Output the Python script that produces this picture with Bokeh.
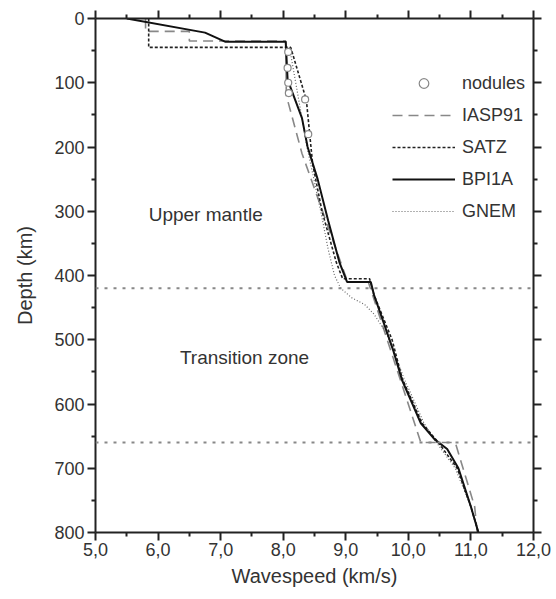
from bokeh.plotting import figure
from bokeh.models import (Range1d, FixedTicker, LinearAxis, Legend, LegendItem,
                          Label, Span)
from bokeh.embed import file_html
from bokeh.resources import INLINE

# ---------------- data ----------------
x_ticks = [5, 6, 7, 8, 9, 10, 11, 12]
x_tick_labels = ["5,0", "6,0", "7,0", "8,0", "9,0", "10,0", "11,0", "12,0"]
y_ticks = [0, 100, 200, 300, 400, 500, 600, 700, 800]

nodules_v = [8.08, 8.07, 8.08, 8.09, 8.35, 8.40]
nodules_d = [52, 77, 100, 116, 126, 180]

iasp91_v = [5.80, 5.80, 6.50, 6.50, 8.04, 8.05, 8.30, 9.03, 9.36, 10.20, 10.75, 11.06, 11.10]
iasp91_d = [0, 20, 20, 35, 35, 120, 210, 410, 410, 660, 660, 760, 800]

satz_v = [5.85, 5.85, 8.12, 8.37, 8.47, 8.62, 8.85, 8.95, 9.38, 9.45, 9.74, 9.90, 10.22, 10.48, 10.78, 11.00, 11.12]
satz_d = [0, 45, 45, 127, 226, 300, 380, 405, 405, 430, 500, 560, 630, 660, 700, 760, 800]

bpi1a_v = [5.50, 6.75, 7.07, 8.04, 8.07, 8.30, 8.39, 8.55, 8.72, 8.90, 9.02, 9.40, 9.45, 9.76, 9.90, 10.20, 10.42, 10.62, 10.80, 11.00, 11.12]
bpi1a_d = [0, 22, 36, 36, 95, 155, 200, 250, 315, 380, 410, 410, 430, 517, 563, 630, 655, 670, 700, 760, 800]

gnem_v = [8.10, 8.20, 8.38, 8.60, 8.72, 8.82, 8.92, 9.10, 9.30, 9.45, 9.65, 9.93, 10.25, 10.45, 10.75, 11.00, 11.12]
gnem_d = [45, 100, 200, 300, 360, 400, 420, 435, 445, 460, 490, 560, 630, 660, 700, 760, 800]

boundaries = [420, 660]

FONT = "Liberation Sans"
TXT = "#333333"

p = figure(frame_width=438, frame_height=514,
           x_range=Range1d(5, 12), y_range=Range1d(800, 0),
           output_backend="svg", toolbar_location=None,
           min_border_left=95, min_border_right=23,
           min_border_top=18, min_border_bottom=67)
p.outline_line_color = None
p.xgrid.visible = False
p.ygrid.visible = False
p.background_fill_color = "white"

for b in boundaries:
    p.add_layout(Span(location=b, dimension="width", line_color="#888888",
                      line_width=2, line_dash="3 6"))

r_iasp = p.line(iasp91_v, iasp91_d, line_color="#888888", line_width=1.6, line_dash="10 6")
r_gnem = p.line(gnem_v, gnem_d, line_color="#666666", line_width=1.2, line_dash="1 2")
r_satz = p.line(satz_v, satz_d, line_color="#222222", line_width=1.6, line_dash="3 2")
r_bpi = p.line(bpi1a_v, bpi1a_d, line_color="#111111", line_width=2)
r_nod = p.scatter(nodules_v, nodules_d, marker="circle", size=7,
                  fill_color="white", line_color="#888888", line_width=1.2)

# axes styling
def style_axis(ax, labels=True):
    ax.axis_line_width = 2
    ax.axis_line_color = "#222222"
    ax.major_tick_line_color = "#222222"
    ax.major_tick_line_width = 2
    ax.minor_tick_line_color = "#222222"
    ax.minor_tick_line_width = 2
    ax.major_tick_out = 8
    ax.major_tick_in = 0
    ax.minor_tick_out = 4
    ax.minor_tick_in = 0
    if labels:
        ax.major_label_text_font = FONT
        ax.major_label_text_font_size = "18px"
        ax.major_label_text_color = TXT
        ax.axis_label_text_font = FONT
        ax.axis_label_text_font_size = "20px"
        ax.axis_label_text_font_style = "normal"
        ax.axis_label_text_color = TXT
    else:
        ax.major_label_text_font_size = "0px"
        ax.major_label_standoff = 0
        ax.major_label_text_color = None

xt = FixedTicker(ticks=x_ticks, minor_ticks=[5.5, 6.5, 7.5, 8.5, 9.5, 10.5, 11.5])
yt = FixedTicker(ticks=y_ticks, minor_ticks=[50, 150, 250, 350, 450, 550, 650, 750])

xa = p.xaxis[0]
xa.ticker = xt
xa.major_label_overrides = {t: l for t, l in zip(x_ticks, x_tick_labels)}
xa.axis_label = "Wavespeed (km/s)"
style_axis(xa)
xa.major_label_standoff = 2
xa.axis_label_standoff = 6

ya = p.yaxis[0]
ya.ticker = yt
ya.axis_label = "Depth (km)"
style_axis(ya)
ya.major_label_standoff = 3
ya.axis_label_standoff = 15

top = LinearAxis(ticker=FixedTicker(ticks=x_ticks, minor_ticks=xt.minor_ticks))
style_axis(top, labels=False)
p.add_layout(top, "above")
right = LinearAxis(ticker=FixedTicker(ticks=y_ticks, minor_ticks=yt.minor_ticks))
style_axis(right, labels=False)
p.add_layout(right, "right")

for txt, x, y in [("Upper mantle", 5.85, 305), ("Transition zone", 6.35, 527)]:
    p.add_layout(Label(x=x, y=y, text=txt, text_font=FONT, text_font_size="19px",
                       text_color=TXT, text_baseline="middle", text_align="left"))

legend = Legend(items=[
    LegendItem(label="nodules", renderers=[r_nod]),
    LegendItem(label="IASP91", renderers=[r_iasp]),
    LegendItem(label="SATZ", renderers=[r_satz]),
    LegendItem(label="BPI1A", renderers=[r_bpi]),
    LegendItem(label="GNEM", renderers=[r_gnem]),
], location=(297, 309), glyph_width=63, glyph_height=24, label_height=24,
    spacing=8, padding=0, label_standoff=7, border_line_color=None,
    background_fill_alpha=0, label_text_font=FONT, label_text_font_size="18px",
    label_text_color=TXT, margin=0)
p.add_layout(legend)

open("out.html", "w").write(file_html(p, INLINE))
